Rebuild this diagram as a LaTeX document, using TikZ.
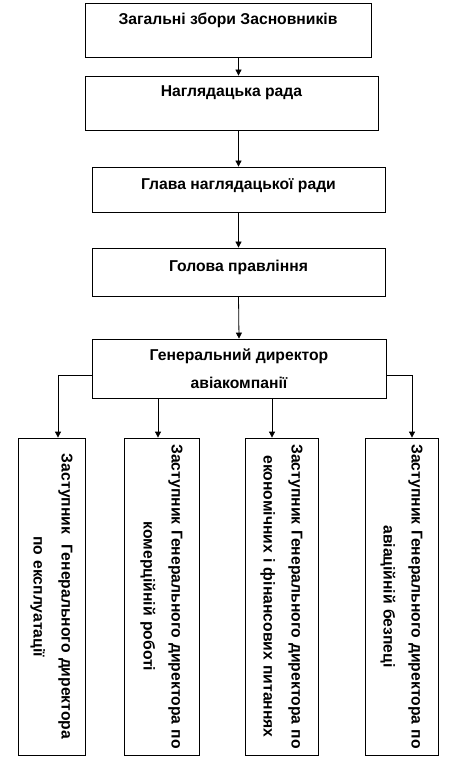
\documentclass[tikz,border=0pt]{standalone}
\usepackage{fontspec}
\setmainfont{Liberation Sans}
\usetikzlibrary{arrows.meta, positioning}
\tikzset{
  box/.style={rectangle, draw=black, fill=white, inner sep=0pt,
    align=center, font=\fontsize{15.7}{28}\selectfont\bfseries, line width=0.8pt},
  vbox/.style={box, rotate=-90, minimum width=317pt, text width=312pt},
  arrow/.style={-{Triangle[width=6pt,length=6pt]}, line width=0.8pt}
}

\begin{document}
\begin{tikzpicture}[x=1pt, y=-1pt]
  \useasboundingbox (0,0) rectangle (453,783);

  % upper chain
  \node[box, minimum width=286pt, text height=21.6pt, text depth=32.4pt] (zbory) at (228,30) {Загальні збори Засновників};
  \node[box, minimum width=293pt, text height=20.6pt, text depth=33.4pt] (rada) at (231.5,103) {Наглядацька рада};
  \node[box, minimum width=293pt, text height=22.6pt, text depth=22.4pt] (glava) at (238.5,189.5) {Глава наглядацької ради};
  \node[box, minimum width=293pt, text height=23.6pt, text depth=24.4pt] (golova) at (238.5,272) {Голова правління};
  \node[box, minimum width=294pt, minimum height=59pt] (gendir) at (239,368.5) {Генеральний директор\\ авіакомпанії};

  % deputies
  \node[vbox, minimum height=67pt] (ekspl) at (51.5,596.5) {Заступник\ \ Генерального директора\\ по експлуатації};
  \node[vbox, minimum height=75pt] (komerc) at (161.5,596.5) {Заступник Генерального директора по\\ комерційній роботі};
  \node[vbox, minimum height=73pt] (finans) at (281.5,596.5) {Заступник Генерального директора по\\ економічних і фінансових питаннях};
  \node[vbox, minimum height=73pt] (bezpeka) at (401.5,596.5) {Заступник Генерального директора по\\ авіаційній безпеці};

  \draw[arrow] (zbory.south -| glava) -- (rada.north -| glava);
  \draw[arrow] (rada.south -| glava) -- (glava.north);
  \draw[arrow] (glava.south) -- (golova.north);
  \draw[arrow] (golova.south) -- (gendir.north);

  \draw[arrow] ([yshift=-6.5pt]gendir.west) -| ([xshift=6.5pt]ekspl.west);
  \draw[arrow] ([xshift=-3.5pt]komerc.west |- gendir.south) -- ([xshift=-3.5pt]komerc.west);
  \draw[arrow] ([xshift=-9.5pt]finans.west |- gendir.south) -- ([xshift=-9.5pt]finans.west);
  \draw[arrow] ([yshift=-6.5pt]gendir.east) -| ([xshift=10.5pt]bezpeka.west);
\end{tikzpicture}
\end{document}
